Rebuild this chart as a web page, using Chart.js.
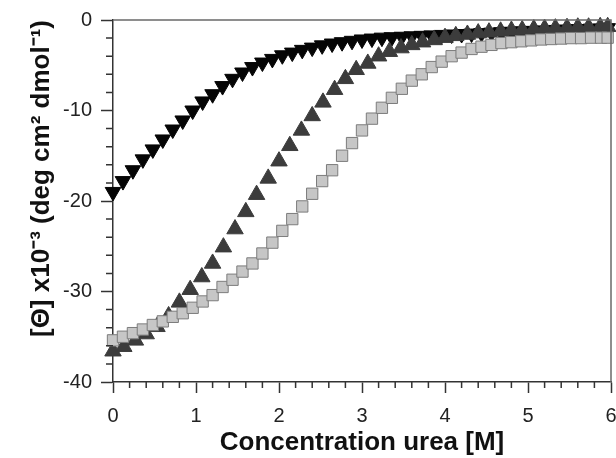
<!DOCTYPE html>
<html>
<head>
<meta charset="utf-8">
<script src="https://cdn.jsdelivr.net/npm/chart.js@4/dist/chart.umd.min.js"></script>
<style>
html,body{margin:0;padding:0;background:#fff;}
#wrap{width:616px;height:458px;}
</style>
</head>
<body>
<div id="wrap"><canvas id="c" width="616" height="458"></canvas></div>
<script>
// ---- data ----
const xTitle = 'Concentration urea [M]';
const yTitle = '[\u0398] x10\u207B\u00B3 (deg cm\u00B2 dmol\u207B\u00B9)';

const xSquares = [0,0.12,0.24,0.36,0.48,0.6,0.72,0.84,0.96,1.08,1.2,1.32,1.44,1.56,1.68,1.8,1.92,2.04,2.16,2.28,2.4,2.52,2.64,2.76,2.88,3,3.12,3.24,3.36,3.48,3.6,3.72,3.84,3.96,4.08,4.2,4.32,4.44,4.56,4.68,4.8,4.92,5.04,5.16,5.28,5.4,5.52,5.64,5.76,5.88,5.96];
const ySquares = [-35.4,-35.0,-34.6,-34.2,-33.7,-33.3,-32.8,-32.4,-31.8,-31.1,-30.4,-29.5,-28.7,-27.8,-26.9,-25.8,-24.6,-23.3,-22.0,-20.6,-19.2,-17.8,-16.6,-15.0,-13.6,-12.2,-10.9,-9.7,-8.6,-7.6,-6.7,-6.0,-5.2,-4.6,-4.0,-3.6,-3.2,-2.95,-2.75,-2.55,-2.45,-2.35,-2.25,-2.15,-2.1,-2.05,-2.0,-2.0,-1.95,-1.95,-1.95];

const xUp = [0,0.13,0.27,0.4,0.53,0.67,0.8,0.93,1.07,1.2,1.33,1.47,1.6,1.73,1.87,2,2.13,2.27,2.4,2.53,2.67,2.8,2.93,3.07,3.2,3.33,3.47,3.6,3.73,3.87,4,4.13,4.27,4.4,4.53,4.67,4.8,4.93,5.07,5.2,5.33,5.47,5.6,5.73,5.87,5.96];
const yUp = [-36.6,-36.1,-35.4,-34.7,-33.9,-32.7,-31.2,-29.8,-28.4,-26.9,-25.1,-23.1,-21.2,-19.3,-17.5,-15.6,-13.9,-12.2,-10.6,-9.1,-7.7,-6.5,-5.5,-4.8,-4.0,-3.5,-3.1,-2.75,-2.45,-2.2,-1.95,-1.75,-1.6,-1.45,-1.35,-1.25,-1.15,-1.1,-1.0,-0.95,-0.9,-0.85,-0.8,-0.8,-0.75,-0.75];

const xDown = [0,0.12,0.24,0.36,0.48,0.6,0.72,0.84,0.96,1.08,1.2,1.32,1.44,1.56,1.68,1.8,1.92,2.04,2.16,2.28,2.4,2.52,2.64,2.76,2.88,3,3.12,3.24,3.36,3.48,3.6,3.72,3.84,3.96,4.08,4.2,4.32,4.44,4.56,4.68,4.8,4.92,5.04,5.16,5.28,5.4,5.52,5.64,5.76,5.88,5.96];
const yDown = [-19.0,-17.8,-16.6,-15.4,-14.3,-13.2,-12.1,-11.1,-10.0,-9.0,-8.2,-7.3,-6.5,-5.8,-5.2,-4.7,-4.3,-3.9,-3.6,-3.3,-3.05,-2.8,-2.6,-2.45,-2.3,-2.15,-2.05,-1.95,-1.9,-1.85,-1.8,-1.75,-1.7,-1.65,-1.6,-1.55,-1.5,-1.45,-1.4,-1.35,-1.3,-1.25,-1.2,-1.15,-1.1,-1.05,-1.0,-1.0,-0.95,-0.95,-0.9];

const xTickLabels = ['0','1','2','3','4','5','6'];
const yTickLabels = ['-40','-30','-20','-10','0'];

function pts(xs, ys){ return xs.map((x,i)=>({x:x, y:ys[i]})); }

// minor ticks + frame drawn through the chart's own scales
const framePlugin = {
  id: 'frame',
  afterDraw(chart){
    const ctx = chart.ctx, a = chart.chartArea;
    const xs = chart.scales.x, ys = chart.scales.y;
    ctx.save();
    ctx.strokeStyle = '#6a6a6a';
    ctx.lineWidth = 1.5;
    ctx.beginPath();
    ctx.moveTo(a.left, a.top); ctx.lineTo(a.right, a.top); ctx.lineTo(a.right, a.bottom);
    ctx.stroke();
    ctx.strokeStyle = '#333';
    ctx.lineWidth = 1.5;
    ctx.beginPath();
    for (let i = 0; i <= 30; i++) {
      if (i % 5 === 0) continue;
      const px = xs.getPixelForValue(i * 0.2);
      ctx.moveTo(px, a.bottom); ctx.lineTo(px, a.bottom + 6);
    }
    for (let j = 0; j <= 20; j++) {
      if (j % 5 === 0) continue;
      const py = ys.getPixelForValue(-40 + j * 2);
      ctx.moveTo(a.left - 7, py); ctx.lineTo(a.left, py);
    }
    ctx.stroke();
    ctx.restore();
  }
};

new Chart(document.getElementById('c'), {
  type: 'scatter',
  data: {
    datasets: [
      { label: 'squares', data: pts(xSquares, ySquares), pointStyle: 'rect', pointRadius: 8,
        backgroundColor: '#c6c6c6', borderColor: '#7c7c7c', borderWidth: 1, showLine: false },
      { label: 'up', data: pts(xUp, yUp), pointStyle: 'triangle', pointRadius: 9.5,
        backgroundColor: '#3c3c3c', borderColor: '#3c3c3c', borderWidth: 1, showLine: false },
      { label: 'down', data: pts(xDown, yDown), pointStyle: 'triangle', rotation: 180, pointRadius: 9,
        backgroundColor: '#050505', borderColor: '#050505', borderWidth: 1, showLine: false }
    ]
  },
  options: {
    responsive: false,
    animation: false,
    events: [],
    clip: false,
    layout: { autoPadding: false, padding: { left: 0, top: 20, right: 5, bottom: 0 } },
    plugins: { legend: { display: false }, tooltip: { enabled: false } },
    scales: {
      x: {
        type: 'linear', min: 0, max: 6,
        afterFit(s){ s.height = 76; s.paddingLeft = 0; s.paddingRight = 0; },
        afterBuildTicks(s){ s.ticks = xTickLabels.map(v => ({ value: Number(v) })); },
        ticks: { callback: (v) => String(v), color: '#222', font: { family: 'Liberation Sans', size: 20 }, padding: 11, maxRotation: 0 },
        grid: { drawOnChartArea: false, tickLength: 11, tickWidth: 1.5, tickColor: '#333' },
        border: { display: true, color: '#333', width: 1.5 },
        title: { display: true, text: xTitle, color: '#111', font: { family: 'Liberation Sans', size: 26, weight: 'bold' }, padding: { top: 0, bottom: 0 } }
      },
      y: {
        type: 'linear', min: -40, max: 0,
        afterFit(s){ s.width = 113; s.paddingTop = 0; s.paddingBottom = 0; },
        afterBuildTicks(s){ s.ticks = yTickLabels.map(v => ({ value: Number(v) })); },
        ticks: { callback: (v) => String(v), color: '#222', font: { family: 'Liberation Sans', size: 20 }, padding: 9 },
        grid: { drawOnChartArea: false, tickLength: 12, tickWidth: 1.5, tickColor: '#333' },
        border: { display: true, color: '#333', width: 1.5 },
        title: { display: true, text: yTitle, align: 'end', color: '#111', font: { family: 'Liberation Sans', size: 26, weight: 'bold' }, padding: { top: 26, bottom: 0 } }
      }
    }
  },
  plugins: [framePlugin]
});
</script>
</body>
</html>
